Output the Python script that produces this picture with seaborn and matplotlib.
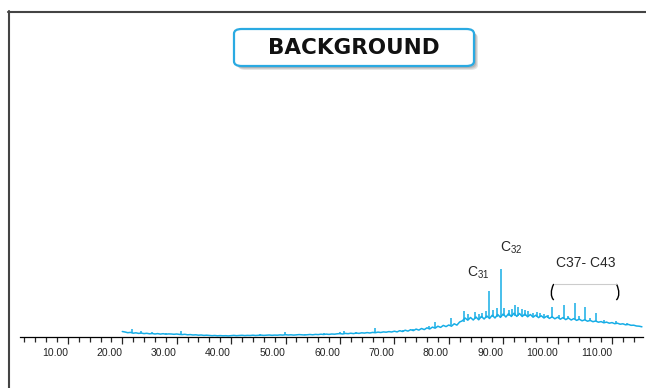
import numpy as np
import pandas as pd
import matplotlib.pyplot as plt
import seaborn as sns
from matplotlib.patches import FancyBboxPatch
from matplotlib.path import Path
from matplotlib.patches import PathPatch
from matplotlib.lines import Line2D

# retention time grid (min) and detector response (arbitrary units)
time_start, time_step = 20.0, 0.5
response = [
    5.5, 5.0, 4.3, 4.6, 3.8, 4.2, 3.6, 3.9, 3.4, 3.7,
    3.2, 3.5, 3.0, 3.4, 2.9, 3.3, 2.8, 3.1, 3.0, 2.7,
    3.0, 2.6, 2.4, 2.7, 2.2, 2.4, 2.0, 2.2, 1.8, 2.0,
    1.6, 1.8, 1.5, 1.3, 1.5, 1.2, 1.4, 1.2, 1.3, 1.1,
    1.4, 1.6, 1.3, 1.5, 1.7, 1.4, 1.6, 1.5, 1.8, 1.5,
    1.7, 1.9, 1.6, 1.8, 2.0, 1.7, 1.9, 1.8, 2.1, 1.9,
    2.3, 2.0, 2.2, 1.9, 2.1, 2.4, 2.2, 2.0, 2.3, 2.5,
    2.2, 2.6, 2.4, 2.8, 2.5, 2.9, 2.6, 3.0, 2.8, 3.2,
    3.4, 3.0, 3.6, 3.3, 3.8, 3.4, 4.0, 3.6, 4.2, 3.9,
    4.4, 4.0, 4.6, 4.3, 4.9, 4.5, 5.1, 4.8, 5.4, 5.0,
    5.8, 5.1, 6.3, 5.5, 6.8, 5.9, 7.3, 6.4, 7.9, 6.9,
    8.5, 7.4, 9.2, 8.0, 9.9, 8.8, 10.8, 9.6, 11.6, 10.4,
    12.0, 10.8, 13.2, 11.9, 15.0, 16.2, 19.0, 16.8, 19.5, 17.0,
    20.0, 17.2, 20.6, 18.0, 21.0, 18.5, 21.8, 19.0, 22.5, 19.6,
    23.0, 20.0, 23.4, 20.5, 23.8, 20.6, 23.5, 20.5, 23.0, 20.2,
    22.5, 19.8, 21.8, 19.4, 21.2, 19.0, 20.8, 18.6, 20.2, 18.2,
    19.8, 17.8, 19.4, 17.4, 19.0, 17.0, 18.4, 16.6, 17.8, 16.2,
    17.2, 15.8, 16.6, 15.3, 16.0, 14.8, 15.4, 14.2, 14.9, 13.8,
    14.4, 13.3, 13.8, 12.8, 13.2, 12.2, 12.6, 11.7, 11.8, 11.0,
    10.8, 10.2,
]
times = time_start + time_step * np.arange(len(response))

# sharp peaks: retention time, foot and apex height
peak_time = [21.8, 23.5, 25.5, 28.0, 30.7, 31.5, 45.3, 49.9, 53.5, 57.0,
             60.0, 60.7, 63.0, 66.4, 71.5, 73.5, 76.3, 77.5, 80.5, 82.8,
             83.5, 84.8, 85.5, 86.2, 86.8, 87.4, 88.2, 88.9, 89.6, 90.1,
             91.0, 91.6, 92.2, 92.7, 93.4, 94.0, 94.6, 95.5, 96.2, 96.8,
             97.5, 98.2, 99.0, 100.3, 101.2, 102.0, 103.2, 104.0, 105.0, 106.0,
             107.0, 108.5, 110.8, 112.7]
peak_foot = [4.3, 3.6, 3.2, 3.0, 2.6, 2.4, 1.5, 1.6, 1.9, 2.4,
             3.2, 3.1, 3.5, 4.3, 5.4, 6.1, 8.4, 9.0, 12.0, 15.5,
             17.0, 17.8, 18.2, 18.6, 19.0, 19.3, 19.8, 19.9, 20.5, 21.0,
             21.0, 21.2, 21.3, 21.1, 21.0, 21.2, 20.8, 20.6, 20.2, 20.0,
             19.8, 19.5, 19.0, 18.6, 18.5, 18.2, 17.7, 17.3, 16.8, 16.3,
             15.6, 14.6, 13.3, 12.2]
peak_apex = [8.0, 6.0, 5.0, 4.5, 6.5, 3.5, 2.8, 5.0, 3.5, 4.0,
             5.3, 6.5, 5.0, 8.7, 7.5, 8.5, 11.0, 15.3, 19.0, 26.0,
             23.0, 25.0, 23.0, 24.0, 26.0, 46.0, 27.0, 29.0, 68.0, 29.0,
             27.0, 28.0, 32.0, 30.0, 28.0, 27.0, 26.0, 24.0, 25.0, 24.0,
             23.0, 22.0, 30.0, 22.0, 32.0, 21.0, 34.0, 21.0, 30.0, 19.0,
             24.0, 17.0, 16.0, 14.0]

x_ticks = [10, 20, 30, 40, 50, 60, 70, 80, 90, 100, 110]
x_labels = ["10.00", "20.00", "30.00", "40.00", "50.00", "60.00",
            "70.00", "80.00", "90.00", "100.00", "110.00"]

sns.set_style("ticks")
plt.rcParams["font.family"] = ["Liberation Sans", "DejaVu Sans"]
plt.rcParams["mathtext.fontset"] = "custom"
plt.rcParams["mathtext.rm"] = "Liberation Sans"
plt.rcParams["mathtext.it"] = "Liberation Sans"

W, H = 646, 388
fig = plt.figure(figsize=(W / 100, H / 100), dpi=100)
ax = fig.add_axes([20 / W, (H - 337) / H, (643 - 20) / W, (337 - 80) / H])

line_col = "#16ade6"
trace = pd.DataFrame({"time": times, "signal": response})
sns.lineplot(data=trace, x="time", y="signal", ax=ax, color=line_col, lw=1.1)
ax.vlines(peak_time, peak_foot, peak_apex, color=line_col, lw=1.1)

ax.set_xlim(1.2, 115.7)
ax.set_ylim(0, 257)
ax.set_xlabel("")
ax.set_ylabel("")
ax.set_yticks([])
for s in ["left", "right", "top"]:
    ax.spines[s].set_visible(False)
ax.spines["bottom"].set_color("black")
ax.spines["bottom"].set_linewidth(0.9)
ax.set_xticks(x_ticks)
ax.set_xticklabels(x_labels, ha="right", fontsize=7.5, color="#222222")
ax.set_xticks(np.arange(2, 116, 2), minor=True)
ax.tick_params(axis="x", which="major", length=5, width=0.9, pad=3, direction="out")
ax.tick_params(axis="x", which="minor", length=3.5, width=0.9, direction="out")

# peak annotations
ax.text(85.4, 64, "C$_{31}$", ha="center", va="center", fontsize=10)
ax.text(91.4, 89, "C$_{32}$", ha="center", va="center", fontsize=10)
ax.text(105.2, 74, "C37- C43", ha="center", va="center", fontsize=10)
ax.plot([99.3, 110.8], [53, 53], color="#cccccc", lw=0.8)
for xs, sign in [(99.3, -1), (110.8, 1)]:
    path = Path([(xs, 53), (xs + sign * 0.6, 47), (xs + sign * 0.6, 40), (xs, 37)],
                [Path.MOVETO, Path.CURVE4, Path.CURVE4, Path.CURVE4])
    ax.add_patch(PathPatch(path, fill=False, color="black", lw=1.0))

# title box with soft shadow
bx0, by0, bw, bh = 234, 29, 240, 37
for k, a in enumerate([0.10, 0.10, 0.12]):
    off = 4 - k
    fig.patches.append(FancyBboxPatch(
        ((bx0 + off) / W, (H - by0 - bh - off) / H), bw / W, bh / H,
        boxstyle="round,pad=0,rounding_size=0.012", transform=fig.transFigure,
        facecolor="black", edgecolor="none", alpha=a))
fig.patches.append(FancyBboxPatch(
    (bx0 / W, (H - by0 - bh) / H), bw / W, bh / H,
    boxstyle="round,pad=0,rounding_size=0.012", transform=fig.transFigure,
    facecolor="white", edgecolor="#2aaae2", lw=1.6))
fig.text((bx0 + bw / 2) / W, (H - by0 - bh / 2) / H, "BACKGROUND",
         ha="center", va="center", fontsize=15.5, fontweight="bold",
         family=["DejaVu Sans"], color="#111111")

# frame lines on top and left
fig.lines.append(Line2D([8 / W, 1], [(H - 11.5) / H, (H - 11.5) / H],
                        transform=fig.transFigure, color="#444444", lw=1.5))
fig.lines.append(Line2D([8.5 / W, 8.5 / W], [0, (H - 11) / H],
                        transform=fig.transFigure, color="#444444", lw=1.5))

fig.savefig("out.png", dpi=100)
